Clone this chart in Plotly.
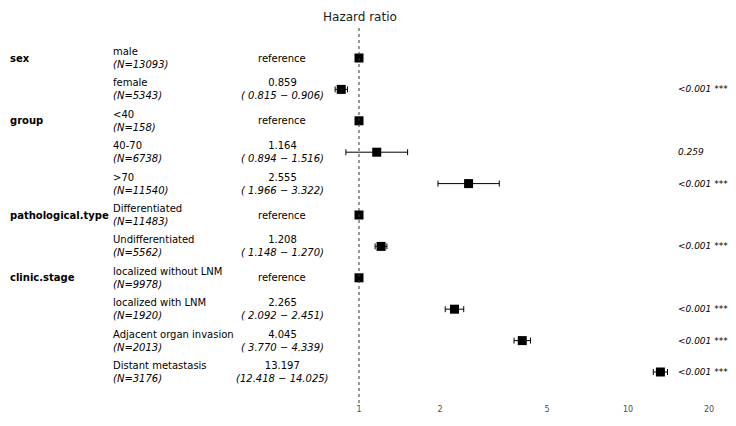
import plotly.graph_objects as go

# ---- data ----
variables = ["sex", "", "group", "", "", "pathological.type", "", "clinic.stage", "", "", ""]
levels = ["male", "female", "<40", "40-70", ">70", "Differentiated", "Undifferentiated",
          "localized without LNM", "localized with LNM", "Adjacent organ invasion", "Distant metastasis"]
n_obs = [13093, 5343, 158, 6738, 11540, 11483, 5562, 9978, 1920, 2013, 3176]
is_ref = [True, False, True, False, False, True, False, True, False, False, False]
hr = [1, 0.859, 1, 1.164, 2.555, 1, 1.208, 1, 2.265, 4.045, 13.197]
hr_lower = [None, 0.815, None, 0.894, 1.966, None, 1.148, None, 2.092, 3.770, 12.418]
hr_upper = [None, 0.906, None, 1.516, 3.322, None, 1.270, None, 2.451, 4.339, 14.025]
p_text = ["", "<0.001 ***", "", "0.259", "<0.001 ***", "", "<0.001 ***", "",
          "<0.001 ***", "<0.001 ***", "<0.001 ***"]
tick_vals = [1, 2, 5, 10, 20]
tick_text = ["1", "2", "5", "10", "20"]

# page has an 8px body margin: figure is placed at (8, 8)
W, H = 728, 418
FONT = "DejaVu Sans, Liberation Sans, Arial, sans-serif"
TXT = 10
rows = list(range(len(levels)))

fig = go.Figure()

ci_rows = [i for i in rows if not is_ref[i]]
fig.add_trace(go.Scatter(
    x=[hr[i] for i in ci_rows], y=ci_rows, mode="markers",
    marker=dict(symbol="square", size=9, color="black", line=dict(width=0)),
    error_x=dict(type="data", symmetric=False,
                 array=[hr_upper[i] - hr[i] for i in ci_rows],
                 arrayminus=[hr[i] - hr_lower[i] for i in ci_rows],
                 color="black", thickness=1, width=3),
    hoverinfo="skip", showlegend=False))
ref_rows = [i for i in rows if is_ref[i]]
fig.add_trace(go.Scatter(
    x=[hr[i] for i in ref_rows], y=ref_rows, mode="markers",
    marker=dict(symbol="square", size=9, color="black", line=dict(width=0)),
    hoverinfo="skip", showlegend=False))

ann = []
for i in rows:
    if variables[i]:
        ann.append(dict(x=0, xref="paper", y=i, yref="y", text="<b>%s</b>" % variables[i],
                        xanchor="left", yanchor="middle", showarrow=False,
                        font=dict(family=FONT, size=TXT, color="black")))
    ann.append(dict(x=103 / W, xref="paper", y=i, yref="y",
                    text="%s<br><i>(N=%d)</i>" % (levels[i], n_obs[i]),
                    xanchor="left", yanchor="middle", align="left", showarrow=False,
                    font=dict(family=FONT, size=TXT, color="black")))
    if is_ref[i]:
        ann.append(dict(x=274 / W, xref="paper", y=i, yref="y", text="reference",
                        xanchor="center", yanchor="middle", showarrow=False,
                        font=dict(family=FONT, size=TXT, color="black")))
    else:
        lo = "%.3f" % hr_lower[i]
        up = "%.3f" % hr_upper[i]
        lo = lo if len(lo) >= 6 else " " + lo
        ci = "(%s − %s)" % (lo, up)
        ann.append(dict(x=274 / W, xref="paper", y=i, yref="y",
                        text="%.3f<br><i>%s</i>" % (hr[i], ci),
                        xanchor="center", yanchor="middle", align="center", showarrow=False,
                        font=dict(family=FONT, size=TXT, color="black")))
    if p_text[i]:
        ann.append(dict(x=668 / W, xref="paper", y=i, yref="y", text="<i>%s</i>" % p_text[i],
                        xanchor="left", yanchor="middle", showarrow=False,
                        font=dict(family=FONT, size=9, color="black")))

plot_h = 395
ann.append(dict(x=352 / W, xref="paper", y=1, yref="paper",
                text="Hazard ratio", xanchor="center", yanchor="top", showarrow=False,
                font=dict(family=FONT, size=12, color="#1a1a1a")))

decade = 269.0
x_ref = 351
x0_log = -x_ref / decade
x1_log = (W - x_ref) / decade
row_sp = 31.4
y0_px = 50
y_top = -y0_px / row_sp
y_bot = (plot_h - y0_px) / row_sp

fig.update_layout(
    width=W, height=H,
    margin=dict(l=0, r=0, t=0, b=H - plot_h, pad=0),
    paper_bgcolor="white", plot_bgcolor="white",
    annotations=ann,
    shapes=[dict(type="line", xref="x", yref="paper", x0=1, x1=1, y0=0,
                 y1=(plot_h - 17) / plot_h, line=dict(color="#333333", width=1, dash="dot"))],
    xaxis=dict(type="log", range=[x0_log, x1_log], tickvals=tick_vals, ticktext=tick_text,
               showgrid=False, zeroline=False, showline=False, ticks="",
               tickfont=dict(family=FONT, size=8, color="#4d4d4d")),
    yaxis=dict(range=[y_bot, y_top], visible=False, showgrid=False, zeroline=False),
    font=dict(family=FONT),
)

fig.write_html("out.html")
